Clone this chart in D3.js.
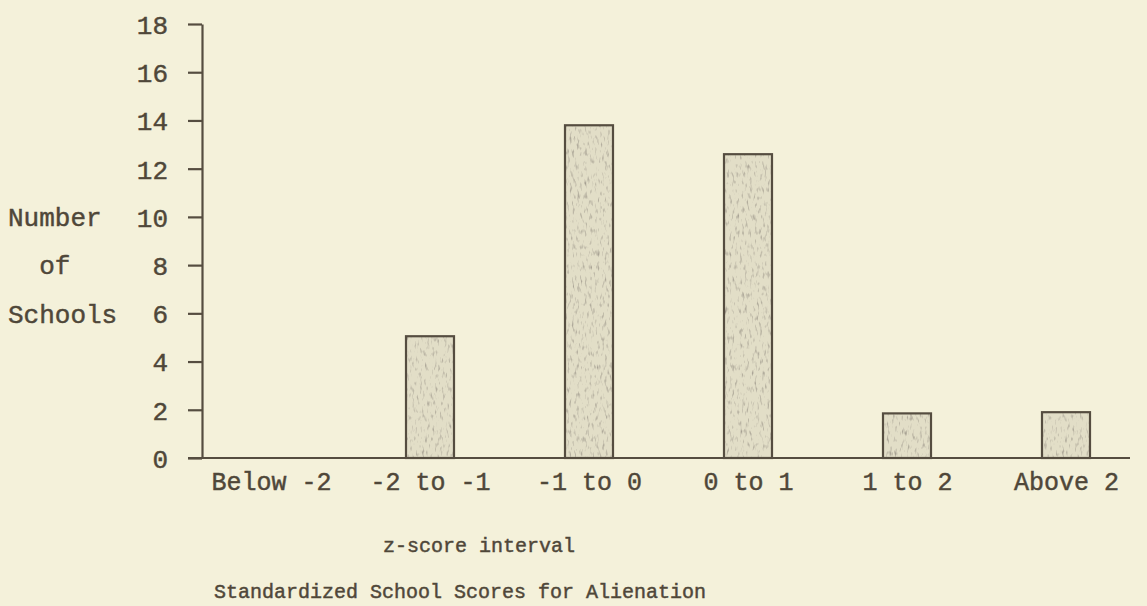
<!DOCTYPE html>
<html>
<head>
<meta charset="utf-8">
<script src="https://cdn.jsdelivr.net/npm/d3@7"></script>
<style>
  html, body { margin: 0; padding: 0; background: #f4f1da; }
  svg { display: block; }
  text { font-family: "Liberation Mono", "Courier New", monospace; fill: #4f4739; stroke: #4f4739; stroke-width: 0.45px; }
</style>
</head>
<body>
<svg id="chart" width="1147" height="606"></svg>
<script>
// ---- data ----
const categories = ["Below -2", "-2 to -1", "-1 to 0", "0 to 1", "1 to 2", "Above 2"];
const counts = [0, 5.05, 13.8, 12.6, 1.85, 1.9];
const yTicks = [0, 2, 4, 6, 8, 10, 12, 14, 16, 18];
const yLabelLines = ["Number", "of", "Schools"];
const yLabelIndent = [0, 2, 0];   // typewriter column offsets
const xTitle = "z-score interval";
const chartTitle = "Standardized School Scores for Alienation";

const svg = d3.select("#chart");
const ink = "#554d40";

// texture for the hand-shaded bars
const defs = svg.append("defs");
const f = defs.append("filter").attr("id", "speckle").attr("x", 0).attr("y", 0).attr("width", 1).attr("height", 1);
f.append("feTurbulence").attr("type", "fractalNoise").attr("baseFrequency", "0.4 0.14").attr("numOctaves", 2).attr("seed", 7).attr("result", "noise");
f.append("feColorMatrix").attr("in", "noise").attr("type", "matrix")
  .attr("values", "0 0 0 0 0.33  0 0 0 0 0.30  0 0 0 0 0.25  -2.6 0 0 0 1.2").attr("result", "dots");
f.append("feComposite").attr("in", "dots").attr("in2", "SourceGraphic").attr("operator", "in").attr("result", "dotsClip");
f.append("feMerge").call(m => { m.append("feMergeNode").attr("in", "SourceGraphic"); m.append("feMergeNode").attr("in", "dotsClip"); });

const x = d3.scalePoint().domain(categories).range([271, 1066]);
const y = d3.scaleLinear().domain([0, 18]).range([458, 24]);
const barW = 48;
const axisX = 202;

const barData = categories.map((c, i) => ({ c, v: counts[i] })).filter(d => d.v > 0);

// bars
const bars = svg.append("g");
bars.selectAll("rect.fill")
  .data(barData)
  .join("rect")
  .attr("class", "fill")
  .attr("x", d => x(d.c) - barW / 2)
  .attr("y", d => y(d.v))
  .attr("width", barW)
  .attr("height", d => y(0) - y(d.v))
  .attr("fill", "#e2dec7")
  .attr("filter", "url(#speckle)");
bars.selectAll("rect.outline")
  .data(barData)
  .join("rect")
  .attr("class", "outline")
  .attr("x", d => x(d.c) - barW / 2)
  .attr("y", d => y(d.v))
  .attr("width", barW)
  .attr("height", d => y(0) - y(d.v))
  .attr("fill", "none")
  .attr("stroke", ink)
  .attr("stroke-width", 2.2);

// y axis
const yAxis = svg.append("g").attr("transform", `translate(${axisX},0)`)
  .call(d3.axisLeft(y).tickValues(yTicks).tickSize(14).tickSizeOuter(0).tickPadding(20));
yAxis.selectAll("path.domain, line").attr("stroke", ink).attr("stroke-width", 2.2);
yAxis.selectAll("text").style("font-size", "26px").attr("fill", "#4f4739").attr("dy", "0.36em");

// x axis
const xAxis = svg.append("g").attr("transform", `translate(0,${y(0)})`)
  .call(d3.axisBottom(x).tickSize(0).tickPadding(14));
xAxis.select("path.domain").remove();
xAxis.append("line").attr("x1", axisX - 14).attr("x2", 1130).attr("y1", 0).attr("y2", 0)
  .attr("stroke", ink).attr("stroke-width", 2.2);
xAxis.selectAll("text").style("font-size", "25px").attr("fill", "#4f4739");

// y title (three typed lines aligned with ticks 10, 8, 6)
const yFont = 26;
svg.append("g").selectAll("text")
  .data(yLabelLines)
  .join("text")
  .attr("x", (d, i) => 8 + yLabelIndent[i] * 0.6 * yFont)
  .attr("y", (d, i) => y(10 - 2 * i))
  .attr("dy", "0.36em")
  .attr("text-anchor", "start")
  .style("font-size", yFont + "px")
  .text(d => d);

// x title & chart title
svg.append("text").attr("x", 479).attr("y", 552)
  .attr("text-anchor", "middle").style("font-size", "20px").text(xTitle);
svg.append("text").attr("x", 460).attr("y", 598)
  .attr("text-anchor", "middle").style("font-size", "20px").text(chartTitle);
</script>
</body>
</html>
